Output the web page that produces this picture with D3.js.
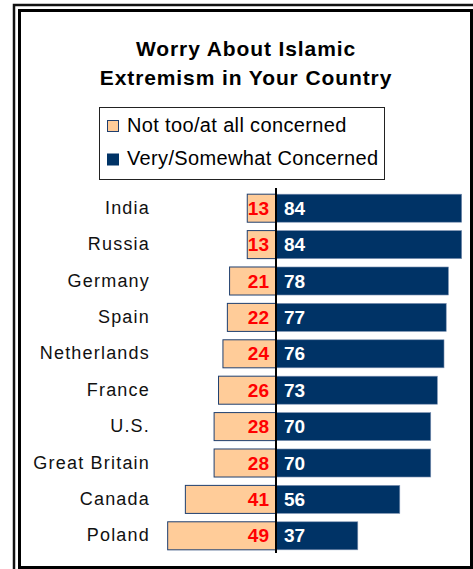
<!DOCTYPE html>
<html>
<head>
<meta charset="utf-8">
<script src="https://cdn.jsdelivr.net/npm/d3@7/dist/d3.min.js"></script>
<style>
  html, body { margin: 0; padding: 0; background: #fff; }
  svg { display: block; font-family: "Liberation Sans", Arial, sans-serif; }
</style>
</head>
<body>
<svg id="chart" width="473" height="569"></svg>
<script>
const countries = ["India", "Russia", "Germany", "Spain", "Netherlands", "France", "U.S.", "Great Britain", "Canada", "Poland"];
const notConcerned = [13, 13, 21, 22, 24, 26, 28, 28, 41, 49];
const concerned = [84, 84, 78, 77, 76, 73, 70, 70, 56, 37];
const seriesNames = ["Not too/at all concerned", "Very/Somewhat Concerned"];
const titleLines = ["Worry About Islamic", "Extremism in Your Country"];

const colors = { not: "#FFCC99", very: "#003366" };

const svg = d3.select("#chart");

// frames
svg.append("rect").attr("x", 14).attr("y", 5).attr("width", 520).attr("height", 620)
  .attr("fill", "none").attr("stroke", "#111").attr("stroke-width", 2.5);
svg.append("rect").attr("x", 19.5).attr("y", 10.5).attr("width", 452).attr("height", 557)
  .attr("fill", "#fff").attr("stroke", "#000").attr("stroke-width", 3);

// title
svg.append("text").attr("x", 246).attr("y", 56).attr("text-anchor", "middle")
  .style("font-weight", "bold").style("font-size", "21px").style("letter-spacing", "0.9px")
  .attr("fill", "#000")
  .selectAll("tspan").data(titleLines).join("tspan")
  .attr("x", 246).attr("dy", (d, i) => i === 0 ? 0 : 28.5).text(d => d);

// legend
const legend = svg.append("g");
legend.append("rect").attr("x", 99.5).attr("y", 107.5).attr("width", 285).attr("height", 72)
  .attr("fill", "#fff").attr("stroke", "#222").attr("stroke-width", 1);
const legItems = legend.selectAll("g.item").data(seriesNames).join("g").attr("class", "item")
  .attr("transform", (d, i) => `translate(0, ${i * 33.5})`);
legItems.append("rect").attr("x", 107.5).attr("y", 120.5).attr("width", 11).attr("height", 11)
  .attr("fill", (d, i) => i === 0 ? colors.not : colors.very)
  .attr("stroke", (d, i) => i === 0 ? "#1F3F6F" : colors.very).attr("stroke-width", 1);
legItems.append("text").attr("x", 127).attr("y", 131.5)
  .style("font-size", "20px").style("letter-spacing", "0.35px").attr("fill", "#000").text(d => d);

// scales
const x = d3.scaleLinear().domain([-49, 84]).range([276 - 49 * 2.2107, 276 + 84 * 2.2107]);
const y = d3.scaleBand().domain(countries).range([190, 554]).paddingInner(0.23).paddingOuter(0.115);

const rows = countries.map((c, i) => ({ c, n: notConcerned[i], v: concerned[i] }));

const g = svg.append("g");

// negative (not concerned) bars
g.selectAll("rect.not").data(rows).join("rect").attr("class", "not")
  .attr("x", d => x(-d.n)).attr("y", d => y(d.c))
  .attr("width", d => x(0) - x(-d.n)).attr("height", y.bandwidth())
  .attr("fill", colors.not).attr("stroke", "#1F3F6F").attr("stroke-width", 1);

// positive bars
g.selectAll("rect.very").data(rows).join("rect").attr("class", "very")
  .attr("x", x(0)).attr("y", d => y(d.c))
  .attr("width", d => x(d.v) - x(0)).attr("height", y.bandwidth())
  .attr("fill", colors.very).attr("stroke", "#7f93b3").attr("stroke-width", 0.6);

// axis line
g.append("line").attr("x1", x(0)).attr("x2", x(0)).attr("y1", 188).attr("y2", 553)
  .attr("stroke", "#000").attr("stroke-width", 2);

// value labels
g.selectAll("text.nl").data(rows).join("text").attr("class", "nl")
  .attr("x", x(0) - 7).attr("y", d => y(d.c) + y.bandwidth() / 2 + 6.5)
  .attr("text-anchor", "end").style("font-weight", "bold").style("font-size", "19px")
  .attr("fill", "#FF0000").text(d => d.n);
g.selectAll("text.vl").data(rows).join("text").attr("class", "vl")
  .attr("x", x(0) + 8).attr("y", d => y(d.c) + y.bandwidth() / 2 + 6.5)
  .style("font-weight", "bold").style("font-size", "19px")
  .attr("fill", "#fff").text(d => d.v);

// category labels
g.selectAll("text.cat").data(rows).join("text").attr("class", "cat")
  .attr("x", 150).attr("y", d => y(d.c) + y.bandwidth() / 2 + 5.5)
  .attr("text-anchor", "end").style("font-size", "18px").style("letter-spacing", "1.2px")
  .attr("fill", "#111").text(d => d.c);
</script>
</body>
</html>
